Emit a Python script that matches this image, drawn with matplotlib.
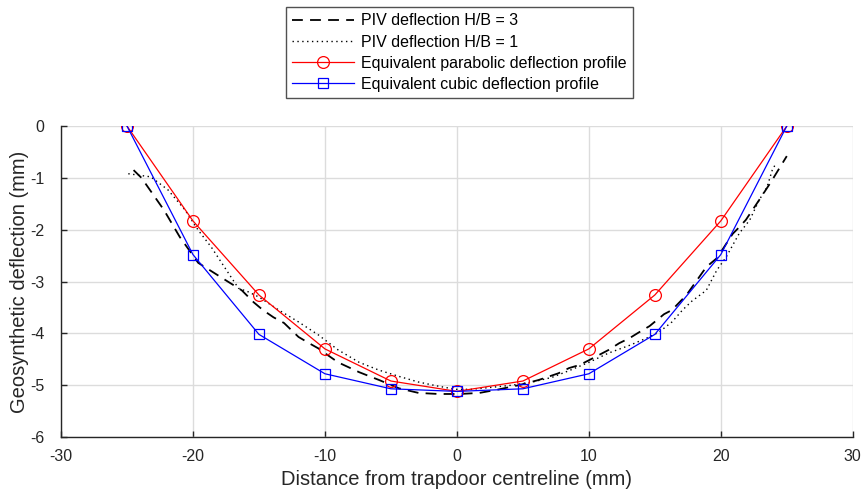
import numpy as np
import matplotlib.pyplot as plt

plt.rcParams['font.family'] = ['Liberation Sans', 'DejaVu Sans']
plt.rcParams['axes.unicode_minus'] = False

# equivalent profiles, sampled every 5 mm
x_eq = [-25, -20, -15, -10, -5, 0, 5, 10, 15, 20, 25]
parabolic = [0, -1.83, -3.26, -4.30, -4.92, -5.12, -4.92, -4.30, -3.26, -1.83, 0]
cubic = [0, -2.48, -4.02, -4.78, -5.07, -5.12, -5.07, -4.78, -4.02, -2.48, 0]

x_hb3 = [-24.5, -23.9, -22.2, -21.0, -19.6, -17.8, -16.3, -15.4, -14.7, -13.9,
         -13.1, -12.0, -11.2, -10.5, -9.9, -9.0, -7.4, -5.9, -4.4, -2.9, -1.4,
         0.2, 1.7, 3.2, 4.7, 6.2, 7.7, 8.5, 9.3, 10.0, 11.5, 12.3, 13.1, 13.8,
         14.6, 15.7, 16.3, 17.4, 18.9, 19.7, 20.9, 21.4, 21.9, 22.9, 23.8, 25.0]
y_hb3 = [-0.85, -1.00, -1.62, -2.14, -2.64, -2.93, -3.17, -3.40, -3.55, -3.69,
         -3.80, -4.07, -4.19, -4.29, -4.40, -4.56, -4.75, -4.90, -5.06, -5.15, -5.17,
         -5.17, -5.15, -5.08, -5.00, -4.90, -4.77, -4.67, -4.61, -4.52, -4.32, -4.19, -4.09, -3.98,
         -3.86, -3.63, -3.55, -3.26, -2.72, -2.55, -2.08, -1.95, -1.81, -1.43, -1.08, -0.58]

x_hb1 = [-24.9, -23.2, -21.9, -20.6, -19.6, -18.6, -17.1, -16.55, -15.8, -15.0,
         -13.5, -12.0, -10.5, -9.0, -7.4, -5.9, -4.4, -2.9, -1.4, -0.1, 1.1, 2.7,
         4.2, 5.7, 7.2, 8.5, 10.0, 11.5, 13.1, 14.4, 15.3, 16.3, 17.1, 17.8, 18.9,
         19.7, 20.4, 21.4, 22.2, 22.9, 23.5, 23.9, 24.2]
y_hb1 = [-0.92, -0.98, -1.23, -1.62, -2.01, -2.34, -2.92, -3.13, -3.20, -3.30,
         -3.55, -3.78, -4.03, -4.32, -4.56, -4.71, -4.83, -4.94, -5.02, -5.08, -5.08, -5.04,
         -5.00, -4.94, -4.85, -4.72, -4.56, -4.38, -4.23, -4.09, -3.98, -3.78, -3.55, -3.38, -3.17,
         -2.78, -2.53, -2.07, -1.81, -1.43, -1.18, -0.85, -0.71]

fig = plt.figure(figsize=(8.64, 4.92), dpi=100)
ax = fig.add_axes([0.0706, 0.1118, 0.9164, 0.632])

ax.plot(x_hb3, y_hb3, color='black', linestyle=(0, (6, 4)), linewidth=1.3,
        label='PIV deflection H/B = 3')
ax.plot(x_hb1, y_hb1, color='black', linestyle=(0, (1, 2.5)), linewidth=1.0,
        label='PIV deflection H/B = 1')
ax.plot(x_eq, parabolic, color='red', linewidth=0.9, marker='o', markersize=8.5,
        markerfacecolor='none', markeredgewidth=0.9,
        label='Equivalent parabolic deflection profile')
ax.plot(x_eq, cubic, color='blue', linewidth=0.9, marker='s', markersize=7.5,
        markerfacecolor='none', markeredgewidth=0.9,
        label='Equivalent cubic deflection profile')

ax.set_xlim(-30, 30)
ax.set_ylim(-6, 0)
ax.set_xticks(np.arange(-30, 31, 10))
ax.set_yticks(np.arange(-6, 1, 1))
ax.grid(True, color='#dcdcdc', linewidth=1.0)
ax.set_axisbelow(True)

for side in ['top', 'right']:
    ax.spines[side].set_visible(False)
for side in ['left', 'bottom']:
    ax.spines[side].set_color('#262626')
    ax.spines[side].set_linewidth(1.0)

ax.tick_params(direction='in', length=4, width=1.0, colors='#262626',
               labelsize=11.5)
ax.tick_params(axis='x', pad=9)
ax.tick_params(axis='y', pad=12)
ax.set_xlabel('Distance from trapdoor centreline (mm)', fontsize=14.5, color='#262626',
              labelpad=4)
ax.set_ylabel('Geosynthetic deflection (mm)', fontsize=14.5, color='#262626',
              labelpad=0.5)

leg = ax.legend(loc='lower center', bbox_to_anchor=(0.503, 1.09), fontsize=11.5,
                handlelength=3.9, frameon=True, fancybox=False, borderaxespad=0,
                labelspacing=0.38, borderpad=0.4, handletextpad=0.4)
leg.get_frame().set_edgecolor('#262626')
leg.get_frame().set_linewidth(1.0)

fig.savefig('out.png', dpi=100)
